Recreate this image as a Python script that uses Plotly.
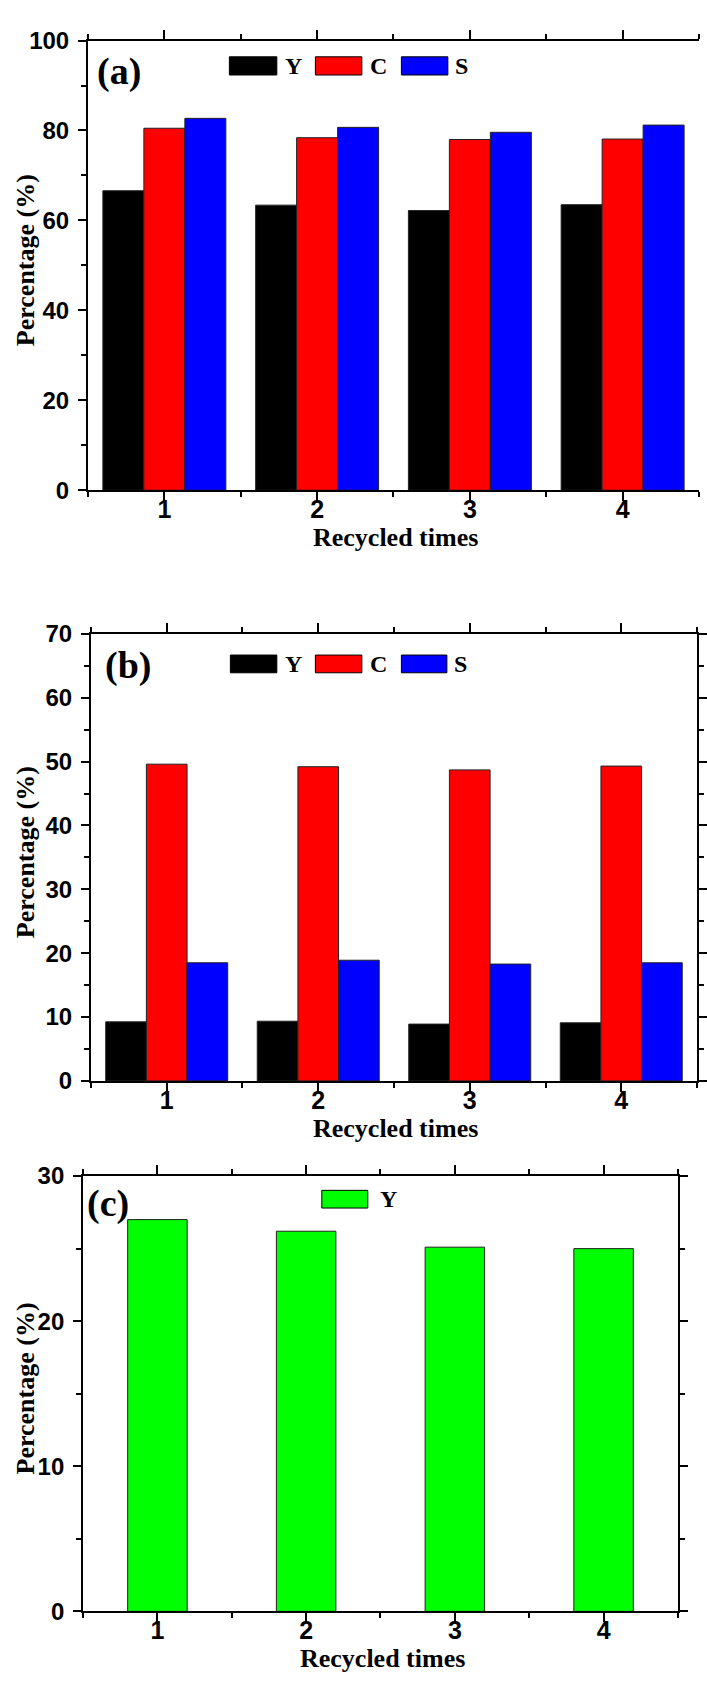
import plotly.graph_objects as go

# ---------------- data ----------------
categories = [1, 2, 3, 4]
series_names = ["Y", "C", "S"]
a_Y = [66.6, 63.4, 62.2, 63.5]
a_C = [80.5, 78.4, 78.0, 78.1]
a_S = [82.7, 80.7, 79.6, 81.2]
b_Y = [9.25, 9.35, 8.9, 9.1]
b_C = [49.6, 49.2, 48.7, 49.3]
b_S = [18.5, 18.9, 18.3, 18.5]
c_Y = [27.0, 26.2, 25.1, 25.0]
a_yticks = [0, 20, 40, 60, 80, 100]
b_yticks = [0, 10, 20, 30, 40, 50, 60, 70]
c_yticks = [0, 10, 20, 30]
panel_labels = ["(a)", "(b)", "(c)"]
x_title = "Recycled times"
y_title = "Percentage (%)"

colors = {"Y": "#000000", "C": "#FF0000", "S": "#0000FF"}
c_color = "#00FF00"

W, H = 707, 1684


def xp(px):
    return px / W


def yp(py):
    return 1 - py / H


fig = go.Figure()

a_vals = {"Y": a_Y, "C": a_C, "S": a_S}
b_vals = {"Y": b_Y, "C": b_C, "S": b_S}
for name in series_names:
    fig.add_trace(go.Bar(x=categories, y=a_vals[name], name=name, xaxis="x", yaxis="y",
                         marker=dict(color=colors[name], line=dict(color="#222222", width=1)),
                         showlegend=False))
for name in series_names:
    fig.add_trace(go.Bar(x=categories, y=b_vals[name], name=name, xaxis="x2", yaxis="y2",
                         marker=dict(color=colors[name], line=dict(color="#222222", width=1)),
                         showlegend=False))
fig.add_trace(go.Bar(x=categories, y=c_Y, name="Y", xaxis="x3", yaxis="y3", width=0.4,
                     marker=dict(color=c_color, line=dict(color="#222222", width=1)),
                     showlegend=False))

tick_font_y = dict(family="Liberation Sans, Arial, sans-serif", size=24, color="black", weight="bold")
tick_font_x = dict(family="Liberation Sans, Arial, sans-serif", size=25, color="black", weight="bold")


def xaxis_cfg(domain, anchor):
    return dict(domain=domain, anchor=anchor, range=[0.5, 4.5], tickmode="array",
                tickvals=categories, ticktext=["<b>%d</b>" % c for c in categories],
                showline=True, linewidth=2, linecolor="black", mirror="ticks",
                ticks="outside", ticklen=9, tickwidth=2, tickcolor="black",
                minor=dict(tickvals=[c - 0.5 for c in categories] + [categories[-1] + 0.5],
                           ticks="outside", ticklen=5, tickwidth=2, tickcolor="black"),
                tickfont=tick_font_x, showgrid=False, zeroline=False, ticklabelstandoff=-13,
                fixedrange=True)


def yaxis_cfg(domain, anchor, rng, ticks_list, mirror="ticks"):
    step = ticks_list[1] - ticks_list[0]
    return dict(domain=domain, anchor=anchor, range=rng, tickmode="array",
                tickvals=ticks_list, ticktext=["<b>%d</b>" % t for t in ticks_list],
                showline=True, linewidth=2, linecolor="black", mirror=mirror,
                ticks="outside", ticklen=8, tickwidth=2, tickcolor="black",
                minor=dict(tickvals=[t + step / 2 for t in ticks_list[:-1]],
                           ticks="outside", ticklen=5, tickwidth=2, tickcolor="black"),
                tickfont=tick_font_y, showgrid=False, zeroline=False, ticklabelstandoff=4,
                fixedrange=True)


# pixel geometry of the three panels
A = dict(l=89, r=707, t=27, b=484)
B = dict(l=92, r=705, t=630, b=1084.3)
C = dict(l=84, r=685.7, t=1181, b=1623.4)

fig.update_layout(
    width=W, height=H,
    margin=dict(l=0, r=0, t=0, b=0),
    paper_bgcolor="white", plot_bgcolor="white",
    barmode="group", bargap=0.195, bargroupgap=0,
    xaxis=xaxis_cfg([xp(A["l"]), xp(A["r"])], "y"),
    yaxis=yaxis_cfg([yp(A["b"]), yp(A["t"])], "x", [0, 100], a_yticks, mirror=False),
    xaxis2=xaxis_cfg([xp(B["l"]), xp(B["r"])], "y2"),
    yaxis2=yaxis_cfg([yp(B["b"]), yp(B["t"])], "x2", [0, 70], b_yticks),
    xaxis3=xaxis_cfg([xp(C["l"]), xp(C["r"])], "y3"),
    yaxis3=yaxis_cfg([yp(C["b"]), yp(C["t"])], "x3", [0, 30], c_yticks),
)

title_font = dict(family="Liberation Serif, Times New Roman, serif", size=26, color="black", weight="bold")
label_font = dict(family="Liberation Serif, Times New Roman, serif", size=38, color="black", weight="bold")
legend_font = dict(family="Liberation Serif, Times New Roman, serif", size=24, color="black", weight="bold")

annotations = []
shapes = []

# axis titles and panel labels
for P, lab, lab_xy in [(A, panel_labels[0], (120, 58)), (B, panel_labels[1], (129, 662)), (C, panel_labels[2], (109, 1209))]:
    annotations.append(dict(text="<b>%s</b>" % x_title, x=xp((P["l"] + P["r"]) / 2 + 2), y=yp(P["b"] + 48),
                            xref="paper", yref="paper", showarrow=False, font=title_font,
                            xanchor="center", yanchor="middle"))
    annotations.append(dict(text="<b>%s</b>" % y_title, x=xp(26), y=yp((P["t"] + P["b"]) / 2 - 5),
                            xref="paper", yref="paper", showarrow=False, font=title_font, textangle=-90,
                            xanchor="center", yanchor="middle"))
    annotations.append(dict(text="<b>%s</b>" % lab, x=xp(lab_xy[0]), y=yp(lab_xy[1]), xref="paper", yref="paper",
                            showarrow=False, font=label_font, xanchor="center", yanchor="middle"))

# custom legends (swatch boxes + names)
legend_a = dict(top=43.5, bot=62, boxes=[(232, 280), (319, 366), (406, 453)], text_x=[286, 372, 458])
legend_b = dict(top=651.5, bot=669.5, boxes=[(233, 280), (319, 366), (406, 452)], text_x=[286, 372, 457])
for L in (legend_a, legend_b):
    for name, (x0, x1), tx in zip(series_names, L["boxes"], L["text_x"]):
        shapes.append(dict(type="rect", xref="paper", yref="paper", x0=xp(x0), x1=xp(x1),
                           y0=yp(L["bot"]), y1=yp(L["top"]), fillcolor=colors[name],
                           line=dict(color="black", width=1)))
        annotations.append(dict(text="<b>%s</b>" % name, x=xp(tx), y=yp((L["top"] + L["bot"]) / 2),
                                xref="paper", yref="paper",
                                showarrow=False, font=legend_font, xanchor="left", yanchor="middle"))

shapes.append(dict(type="rect", xref="paper", yref="paper", x0=xp(325.5), x1=xp(372),
                   y0=yp(1213.5), y1=yp(1195.5), fillcolor=c_color, line=dict(color="black", width=1)))
annotations.append(dict(text="<b>Y</b>", x=xp(382), y=yp(1204.5), xref="paper", yref="paper",
                        showarrow=False, font=legend_font, xanchor="left", yanchor="middle"))

fig.update_layout(annotations=annotations, shapes=shapes)

fig.write_html("out.html")
